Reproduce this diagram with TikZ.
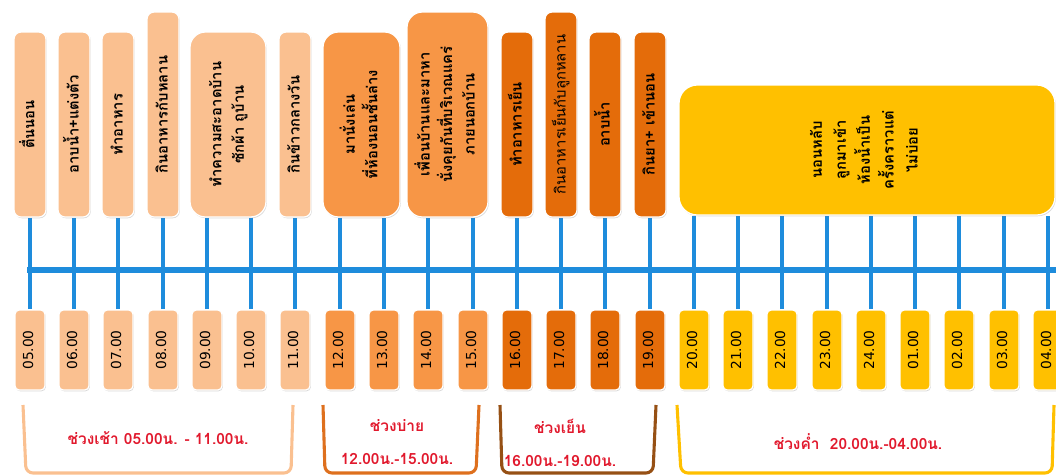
\documentclass[tikz,border=0pt]{standalone}
\usepackage{fontspec}
\usepackage{graphicx}
\usetikzlibrary{shadows,backgrounds}
\newfontfamily\thaifont[Script=Thai]{Loma}
\newfontfamily\numfont{DejaVu Sans}
\newcommand{\px}{0.025cm}
\newcommand{\up}[1]{\rotatebox{90}{\begin{tabular}{@{}c@{}}#1\end{tabular}}}
\definecolor{peach}{RGB}{250,192,144}
\definecolor{noon}{RGB}{247,150,70}
\definecolor{dusk}{RGB}{228,108,10}
\definecolor{night}{RGB}{255,192,0}
\definecolor{tlblue}{RGB}{30,140,220}
\definecolor{labred}{RGB}{225,25,45}
\definecolor{noonbr}{RGB}{222,112,30}
\definecolor{duskbr}{RGB}{150,80,20}

\begin{document}
\begin{tikzpicture}[x=\px,y=-\px,
  box/.style={draw=white,line width=0.9pt,rounded corners=5pt,inner sep=0pt,align=center,
    drop shadow={shadow xshift=0.6pt,shadow yshift=-0.9pt,opacity=0.3},
    font=\thaifont\bfseries\fontsize{10.5}{16}\selectfont},
  nar/.style={box,minimum width=32*\px,minimum height=185*\px},
  tall/.style={box,minimum width=32*\px,minimum height=205*\px},
  hr/.style={draw=white,line width=0.9pt,rounded corners=3pt,inner sep=0pt,
    drop shadow={shadow xshift=0.6pt,shadow yshift=-0.9pt,opacity=0.3},
    minimum width=30*\px,minimum height=80*\px,font=\numfont\fontsize{9.8}{10}\selectfont},
  tick/.style={draw=tlblue,line width=3.4pt},
  brk/.style={line width=2.2pt,rounded corners=5pt},
  lab/.style={text=labred,align=center,font=\thaifont\bfseries\fontsize{11}{23}\selectfont}]

\useasboundingbox (0,0) rectangle (1056,474);

% activities
\node[nar,fill=peach] (a1) at (30,124.5) {\up{ตื่นนอน}};
\node[nar,fill=peach] (a2) at (74,124.5) {\up{อาบน้ำ+แต่งตัว}};
\node[nar,fill=peach] (a3) at (118,124.5) {\up{ทำอาหาร}};
\node[tall,fill=peach] (a4) at (163,114.5) {\up{กินอาหารกับหลาน}};
\node[nar,fill=peach,minimum width=76*\px,rounded corners=11pt] (a5) at (228,124.5) {\up{ทำความสะอาดบ้าน\\ซักผ้า ถูบ้าน}};
\node[nar,fill=peach] (a6) at (295,124.5) {\up{กินข้าวกลางวัน}};
\node[nar,fill=noon,minimum width=77*\px,rounded corners=11pt] (a7) at (361.5,124.5) {\up{มานั่งเล่น\\ที่ห้องนอนชั้นล่าง}};
\node[tall,fill=noon,minimum width=81*\px,rounded corners=11pt] (a8) at (447.5,114.5) {\up{เพื่อนบ้านและมาหา\\นั่งคุยกันที่บริเวณแคร่\\ภายนอกบ้าน}};
\node[nar,fill=dusk] (a9) at (517,124.5) {\up{ทำอาหารเย็น}};
\node[tall,fill=dusk,font=\thaifont\fontsize{10.5}{16}\selectfont] (a10) at (561,114.5) {\up{กินอาหารเย็นกับลูกหลาน}};
\node[nar,fill=dusk] (a11) at (605,124.5) {\up{อาบน้ำ}};
\node[nar,fill=dusk] (a12) at (650,124.5) {\up{กินยา+ เข้านอน}};
\node[box,fill=night,minimum width=376*\px,minimum height=130*\px,rounded corners=13pt,
  font=\thaifont\bfseries\fontsize{10.5}{17}\selectfont] (a13) at (867,150) {\hspace*{-0.1cm}\up{นอนหลับ\\ลูกมาเข้า\\ห้องน้ำเป็น\\ครั้งคราวแต่\\ไม่บ่อย}};

% hours
\node[hr,fill=peach] (b1) at (30,350) {\up{05.00}};
\node[hr,fill=peach] (b2) at (74,350) {\up{06.00}};
\node[hr,fill=peach] (b3) at (118,350) {\up{07.00}};
\node[hr,fill=peach] (b4) at (163,350) {\up{08.00}};
\node[hr,fill=peach] (b5) at (207,350) {\up{09.00}};
\node[hr,fill=peach] (b6) at (251,350) {\up{10.00}};
\node[hr,fill=peach] (b7) at (295,350) {\up{11.00}};
\node[hr,fill=noon] (b8) at (340,350) {\up{12.00}};
\node[hr,fill=noon] (b9) at (384,350) {\up{13.00}};
\node[hr,fill=noon] (b10) at (428,350) {\up{14.00}};
\node[hr,fill=noon] (b11) at (473,350) {\up{15.00}};
\node[hr,fill=dusk] (b12) at (517,350) {\up{16.00}};
\node[hr,fill=dusk] (b13) at (561,350) {\up{17.00}};
\node[hr,fill=dusk] (b14) at (605,350) {\up{18.00}};
\node[hr,fill=dusk] (b15) at (650,350) {\up{19.00}};
\node[hr,fill=night] (b16) at (694,350) {\up{20.00}};
\node[hr,fill=night] (b17) at (738,350) {\up{21.00}};
\node[hr,fill=night] (b18) at (782,350) {\up{22.00}};
\node[hr,fill=night] (b19) at (827,350) {\up{23.00}};
\node[hr,fill=night] (b20) at (871,350) {\up{24.00}};
\node[hr,fill=night] (b21) at (915,350) {\up{01.00}};
\node[hr,fill=night] (b22) at (959,350) {\up{02.00}};
\node[hr,fill=night] (b23) at (1004,350) {\up{03.00}};
\node[hr,fill=night] (b24) at (1048,350) {\up{04.00}};

% time line
\coordinate (l0) at (27,270);
\coordinate (l1) at (1060,270);

\begin{scope}[on background layer]
\draw[tick,line width=4.2pt] (l0) -- (l1);
\path[tick] (b1.north) edge (b1.north |- a1.south) (b2.north) edge (b2.north |- a2.south)
  (b3.north) edge (b3.north |- a3.south) (b4.north) edge (b4.north |- a4.south)
  (b5.north) edge (b5.north |- a5.south) (b6.north) edge (b6.north |- a5.south)
  (b7.north) edge (b7.north |- a6.south) (b8.north) edge (b8.north |- a7.south)
  (b9.north) edge (b9.north |- a7.south) (b10.north) edge (b10.north |- a8.south)
  (b11.north) edge (b11.north |- a8.south) (b12.north) edge (b12.north |- a9.south)
  (b13.north) edge (b13.north |- a10.south) (b14.north) edge (b14.north |- a11.south)
  (b15.north) edge (b15.north |- a12.south) (b16.north) edge (b16.north |- a13.south)
  (b17.north) edge (b17.north |- a13.south) (b18.north) edge (b18.north |- a13.south)
  (b19.north) edge (b19.north |- a13.south) (b20.north) edge (b20.north |- a13.south)
  (b21.north) edge (b21.north |- a13.south) (b22.north) edge (b22.north |- a13.south)
  (b23.north) edge (b23.north |- a13.south) (b24.north) edge (b24.north |- a13.south);
\end{scope}

% periods
\draw[brk,peach] (23,405) -- (26,473) -- (291,473) -- (293,405);
\draw[brk,noonbr] (323,405) -- (325,473) -- (476,473) -- (479,405);
\draw[brk,duskbr] (500,405) -- (502,473) -- (653,473) -- (656,405);
\draw[brk,night] (677,405) -- (681,473) -- (1052,473) -- (1054,405);

\node[lab] (c1) at (158,438) {ช่วงเช้า 05.00น. - 11.00น.};
\node[lab] (c2) at (397,442) {ช่วงบ่าย\\12.00น.-15.00น.};
\node[lab] (c3) at (560,443) {ช่วงเย็น\\16.00น.-19.00น.};
\node[lab] (c4) at (858,442) {ช่วงค่ำ\ \ 20.00น.-04.00น.};

\end{tikzpicture}
\end{document}
